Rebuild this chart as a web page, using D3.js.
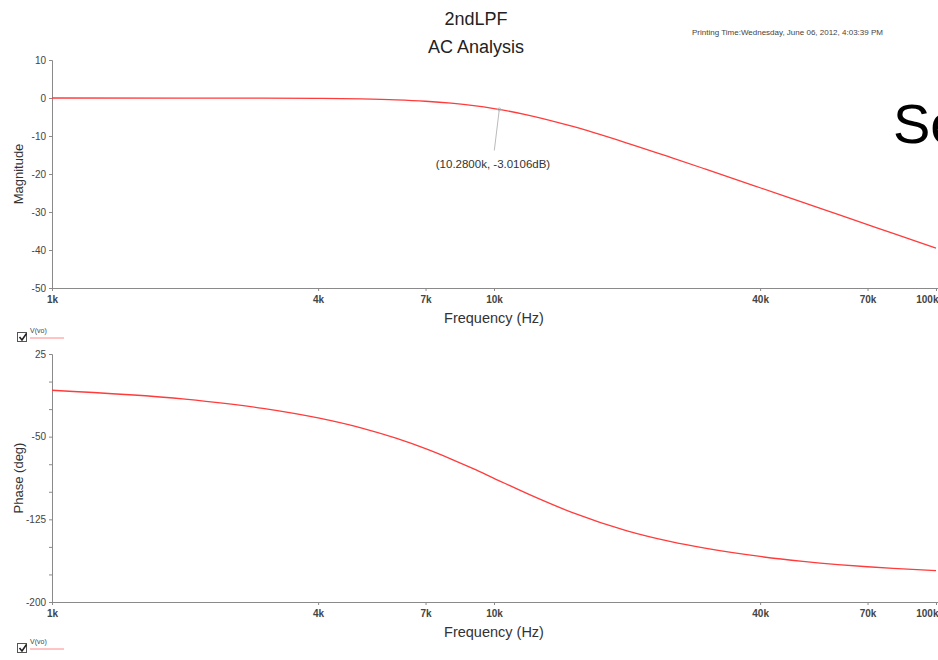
<!DOCTYPE html>
<html>
<head>
<meta charset="utf-8">
<script src="https://cdn.jsdelivr.net/npm/d3@7"></script>
<style>
  body { margin: 0; background: #fff; }
  svg { display: block; font-family: "Liberation Sans", Arial, sans-serif; }
  .axis path, .axis line { stroke: #8a8a8a; }
  .axis text { fill: #444; font-size: 10px; }
</style>
</head>
<body>
<svg id="chart" width="938" height="660"></svg>
<script>
// frequencies in Hz
const freqs = [1000, 2000, 3000, 4000, 5000, 6000, 7000, 8000, 9000, 10000, 12000, 15000, 20000, 25000, 30000, 40000, 50000, 60000, 70000, 80000, 100000]
const magnitude = [0, -0.01, -0.03, -0.1, -0.24, -0.48, -0.85, -1.36, -2.0, -2.78, -4.56, -7.43, -11.86, -15.56, -18.66, -23.62, -27.49, -30.65, -33.33, -35.65, -39.52]
const phase = [-7.9, -16.0, -24.3, -33.0, -42.0, -51.4, -60.9, -70.3, -79.3, -87.8, -102.4, -118.7, -135.4, -145.0, -151.2, -158.7, -163.1, -166.0, -168.0, -169.5, -171.6]
const freqTicks = [1000, 4000, 7000, 10000, 40000, 70000, 100000]
const freqTickLabels = ["1k", "4k", "7k", "10k", "40k", "70k", "100k"]
const magTicks = [10, 0, -10, -20, -30, -40, -50]
const phaseTicks = [25, 0, -25, -50, -75, -100, -125, -150, -175, -200]
const phaseLabels = [25, -50, -125, -200]
const marker = { f: 10280, v: -3.0106, label: "(10.2800k, -3.0106dB)" }

let svg = d3.select("#chart")

let x = d3.scaleLog()
  .domain([1000, 100000])
  .range([52, 936])

let red = "#ff3b3b"

function drawPanel(cfg) {
  let y = d3.scaleLinear()
    .domain(cfg.domain)
    .range([cfg.bottom, cfg.top])

  // x axis
  let xa = svg.append("g")
    .attr("class", "axis")
    .attr("transform", "translate(0," + cfg.bottom + ")")
    .call(d3.axisBottom(x)
      .tickValues(freqTicks)
      .tickSize(3)
      .tickSizeOuter(0)
      .tickFormat(function(d, i) { return freqTickLabels[i] }))
    .call(g => g.select(".domain").attr("d", "M52,0.5H938"))
  xa.selectAll("text")
    .attr("dy", "0.9em")
    .style("font-weight", "bold")
  // last label is pushed in so it fits against the edge
  xa.selectAll(".tick:last-of-type text")
    .attr("text-anchor", "end")
    .attr("dx", "2")

  // y axis
  svg.append("g")
    .attr("class", "axis")
    .attr("transform", "translate(52,0)")
    .call(d3.axisLeft(y)
      .tickValues(cfg.ticks)
      .tickSize(3)
      .tickSizeOuter(3)
      .tickFormat(cfg.format))

  svg.append("text")
    .attr("x", 494)
    .attr("y", cfg.bottom + 35)
    .attr("text-anchor", "middle")
    .attr("font-size", "14.5px")
    .attr("fill", "#333")
    .text("Frequency (Hz)")

  svg.append("text")
    .attr("transform", "translate(23," + ((cfg.top + cfg.bottom) / 2) + ") rotate(-90)")
    .attr("text-anchor", "middle")
    .attr("font-size", "13px")
    .attr("fill", "#333")
    .text(cfg.label)

  let line = d3.line()
    .x(function(d, i) { return x(freqs[i]) })
    .y(function(d) { return y(d) })
    .curve(d3.curveMonotoneX)

  svg.append("path")
    .datum(cfg.values)
    .attr("fill", "none")
    .attr("stroke", red)
    .attr("stroke-width", 1.3)
    .attr("d", line)

  // legend
  let lg = svg.append("g").attr("transform", "translate(0," + cfg.legendY + ")")
  lg.append("rect")
    .attr("x", 17.5).attr("y", 0.5)
    .attr("width", 9).attr("height", 9)
    .attr("fill", "#fff").attr("stroke", "#555")
  lg.append("path")
    .attr("d", "M19.5,5 L22,8 L26.5,1.5")
    .attr("fill", "none").attr("stroke", "#222").attr("stroke-width", 1.6)
  lg.append("text")
    .attr("x", 30).attr("y", 1)
    .attr("font-size", "7px").attr("fill", "#444")
    .text("V(vo)")
  lg.append("line")
    .attr("x1", 30).attr("x2", 64)
    .attr("y1", 6).attr("y2", 6)
    .attr("stroke", "#f88").attr("stroke-width", 1)

  return y
}

let yMag = drawPanel({
  domain: [-50, 10], top: 60, bottom: 288, ticks: magTicks,
  format: function(d) { return String(d) }, label: "Magnitude", values: magnitude, legendY: 332
})

drawPanel({
  domain: [-200, 25], top: 354, bottom: 602, ticks: phaseTicks,
  format: function(d) { return phaseLabels.indexOf(d) >= 0 ? String(d) : "" },
  label: "Phase (deg)", values: phase, legendY: 643
})

// -3dB cursor
let mx = x(marker.f), my = yMag(marker.v)
svg.append("line")
  .attr("x1", mx).attr("y1", my)
  .attr("x2", mx - 5).attr("y2", my + 41)
  .attr("stroke", "#bbb").attr("stroke-width", 1)
svg.append("circle")
  .attr("cx", mx).attr("cy", my).attr("r", 1.5)
  .attr("fill", "none").attr("stroke", "#bbb")
svg.append("text")
  .attr("x", 493).attr("y", 168)
  .attr("text-anchor", "middle")
  .attr("font-size", "11.5px").attr("fill", "#333")
  .text(marker.label)

// titles
svg.append("text")
  .attr("x", 476).attr("y", 25)
  .attr("text-anchor", "middle")
  .attr("font-size", "18px").attr("fill", "#222")
  .text("2ndLPF")
svg.append("text")
  .attr("x", 476).attr("y", 53)
  .attr("text-anchor", "middle")
  .attr("font-size", "18px").attr("fill", "#222")
  .text("AC Analysis")
svg.append("text")
  .attr("x", 692).attr("y", 35)
  .attr("font-size", "8px").attr("fill", "#444")
  .text("Printing Time:Wednesday, June 06, 2012, 4:03:39 PM")

// leftover slide text at the right edge
svg.append("text")
  .attr("x", 893).attr("y", 143)
  .attr("font-size", "56px").attr("fill", "#000")
  .text("Se")
</script>
</body>
</html>
